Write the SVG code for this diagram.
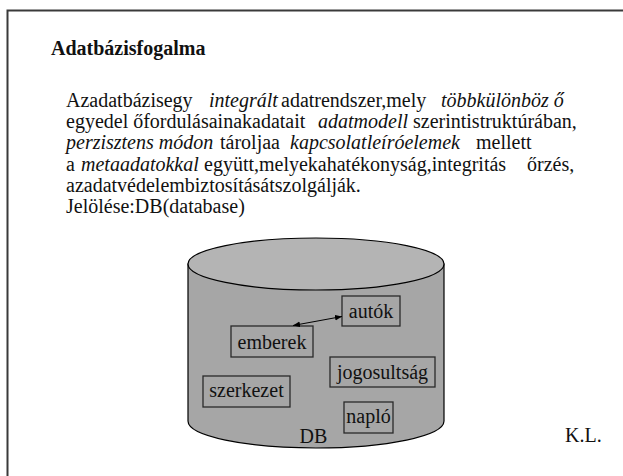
<svg xmlns="http://www.w3.org/2000/svg" width="623" height="476" viewBox="0 0 623 476" font-family="'Liberation Serif', 'Times New Roman', serif">
  <style>
    text { font-family: 'Liberation Serif', 'Times New Roman', serif; font-size: 20px; fill: #111; }
    .title { font-weight: bold; }
    .it { font-style: italic; }
    .box rect { fill: none; stroke: #2a2a2a; stroke-width: 1.3; }
    .box text { text-anchor: middle; }
    .conn { stroke: #000; stroke-width: 1; fill: none; }
  </style>
  <defs>
    <marker id="head" viewBox="0 0 10 10" refX="10" refY="5" markerWidth="7" markerHeight="7" orient="auto-start-reverse" markerUnits="userSpaceOnUse">
      <path d="M0,1 L10,5 L0,9 Z" fill="#000"/>
    </marker>
  </defs>

  <rect width="623" height="476" fill="#fff"/>
  <!-- slide frame: only top and left edges fall inside the view -->
  <rect x="7.5" y="10.5" width="700" height="600" fill="none" stroke="#3a3a3a" stroke-width="2"/>

  <text class="title" x="51" y="55">Adatbázisfogalma</text>

  <g id="body-text">
    <text y="107"><tspan x="66">Azadatbázisegy</tspan><tspan class="it" x="209">integrált</tspan><tspan x="281">adatrendszer,mely</tspan><tspan class="it" x="441">többkülönböz ő</tspan></text>
    <text y="128.2"><tspan x="66">egyedel őfordulásainakadatait</tspan><tspan class="it" x="318">adatmodell</tspan><tspan x="413">szerintistruktúrában,</tspan></text>
    <text y="149.4"><tspan class="it" x="66">perzisztens módon</tspan><tspan x="220">tároljaa</tspan><tspan class="it" x="290">kapcsolatleíróelemek</tspan><tspan x="476">mellett</tspan></text>
    <text y="170.6"><tspan x="66">a</tspan><tspan class="it" x="81">metaadatokkal</tspan><tspan x="204">együtt,melyekahatékonyság,integritás</tspan><tspan x="527">őrzés,</tspan></text>
    <text y="191.8" x="66">azadatvédelembiztosításátszolgálják.</text>
    <text y="213" x="66">Jelölése:DB(database)</text>
  </g>

  <!-- database cylinder -->
  <g id="db">
    <path d="M188,264 V421 A128,27 0 0 0 444,421 V264 Z" fill="#a6a6a6" stroke="#000" stroke-width="1.2"/>
    <ellipse cx="316" cy="264" rx="128" ry="26" fill="#b4b4b4" stroke="#000" stroke-width="1.2"/>
    <text x="313.5" y="443" text-anchor="middle">DB</text>
  </g>

  <g id="autok" class="box"><rect x="342" y="296" width="58" height="30"/><text x="371" y="318">autók</text></g>
  <g id="emberek" class="box"><rect x="231" y="326" width="82" height="31"/><text x="272" y="349">emberek</text></g>
  <g id="jogosultsag" class="box"><rect x="330" y="357" width="105" height="30"/><text x="382.5" y="379">jogosultság</text></g>
  <g id="szerkezet" class="box"><rect x="203" y="376" width="87" height="31"/><text x="246.5" y="397">szerkezet</text></g>
  <g id="naplo" class="box"><rect x="344" y="402" width="49" height="31"/><text x="368.5" y="423">napló</text></g>

  <g id="connectors">
    <line class="conn" x1="293" y1="325.5" x2="342" y2="316.5" marker-start="url(#head)" marker-end="url(#head)"/>
  </g>

  <text x="565" y="442">K.L.</text>
</svg>
